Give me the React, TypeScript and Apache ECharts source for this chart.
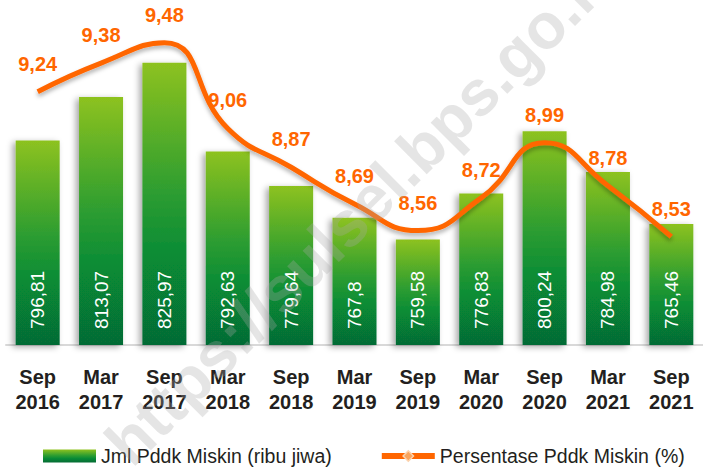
import React, { useEffect, useRef } from "react";
import * as echarts from "echarts";

const categories = [
  "Sep\n2016", "Mar\n2017", "Sep\n2017", "Mar\n2018", "Sep\n2018", "Mar\n2019",
  "Sep\n2019", "Mar\n2020", "Sep\n2020", "Mar\n2021", "Sep\n2021",
];
const poorPeople = [796.81, 813.07, 825.97, 792.63, 779.64, 767.8, 759.58, 776.83, 800.24, 784.98, 765.46];
const poorPercent = [9.24, 9.38, 9.48, 9.06, 8.87, 8.69, 8.56, 8.72, 8.99, 8.78, 8.53];
const barName = "Jml Pddk Miskin (ribu jiwa)";
const lineName = "Persentase Pddk Miskin (%)";
const watermark = "https://sulsel.bps.go.id";

const FONT = "'Liberation Sans', Arial, sans-serif";
const comma = (v: number) => String(v).replace(".", ",");

export default function App() {
  const ref = useRef<HTMLDivElement>(null);
  useEffect(() => {
    if (!ref.current) return;
    const chart = echarts.init(ref.current, null, { renderer: "svg" });
    const barGrad = new echarts.graphic.LinearGradient(0, 0, 0, 1, [
      { offset: 0, color: "#8dc21f" },
      { offset: 0.45, color: "#2f9e30" },
      { offset: 0.7, color: "#078a36" },
      { offset: 1, color: "#066b34" },
    ]);
    chart.setOption({
      animation: false,
      textStyle: { fontFamily: FONT },
      grid: { left: 6, right: -7, top: 12, bottom: 123, containLabel: false },
      legend: {
        left: 38,
        top: 441,
        itemWidth: 53,
        itemHeight: 13,
        itemGap: 47,
        textStyle: { fontFamily: FONT, fontSize: 19.5, color: "#231f20" },
        data: [
          { name: barName, icon: "rect" },
          {
            name: lineName,
            lineStyle: { width: 6, color: "#ff6600", opacity: 1 },
            itemStyle: { color: "#f9a45c", borderColor: "#fcd3ae", borderWidth: 1.5, opacity: 1 },
          },
        ],
      },
      xAxis: {
        type: "category",
        data: categories,
        axisLine: { show: true, lineStyle: { color: "#d9d9d9", width: 2 } },
        axisTick: { show: false },
        axisLabel: {
          interval: 0,
          margin: 19,
          fontFamily: FONT,
          fontSize: 20,
          fontWeight: "bold",
          lineHeight: 25,
          color: "#231f20",
        },
      },
      yAxis: [
        { type: "value", min: 720, max: 845, show: false, splitLine: { show: false } },
        { type: "value", min: 8.0, max: 9.63, show: false, splitLine: { show: false } },
      ],
      series: [
        {
          name: barName,
          type: "bar",
          data: poorPeople,
          barWidth: 44,
          yAxisIndex: 0,
          itemStyle: {
            color: barGrad,
            shadowColor: "rgba(0,0,0,0.35)",
            shadowBlur: 6,
            shadowOffsetX: -3,
            shadowOffsetY: 2,
          },
          label: {
            show: true,
            position: "insideBottom",
            rotate: 90,
            align: "left",
            verticalAlign: "middle",
            distance: 16,
            color: "#ffffff",
            fontFamily: FONT,
            fontSize: 19,
            formatter: (p: any) => comma(p.value),
          },
        },
        {
          name: lineName,
          type: "line",
          data: poorPercent,
          yAxisIndex: 1,
          smooth: 0.5,
          showSymbol: true,
          symbol: "diamond",
          symbolSize: 12,
          itemStyle: { color: "#f7a25e", opacity: 0 },
          lineStyle: {
            color: "#ff6600",
            width: 5,
            shadowColor: "rgba(0,0,0,0.3)",
            shadowBlur: 4,
            shadowOffsetY: 3,
          },
          label: {
            show: true,
            position: "top",
            distance: 12,
            opacity: 1,
            color: "#ff6600",
            fontFamily: FONT,
            fontSize: 20,
            fontWeight: "bold",
            formatter: (p: any) => comma(p.value),
          },
          z: 3,
        },
      ],
      graphic: [
        {
          type: "text",
          x: 363,
          y: 207,
          rotation: Math.PI / 4,
          z: 100,
          silent: true,
          style: {
            text: watermark,
            fontFamily: FONT,
            fontWeight: "bold",
            fontSize: 64,
            fill: "rgba(170,170,170,0.3)",
            align: "center",
            verticalAlign: "middle",
          },
        },
      ],
    });
    return () => chart.dispose();
  }, []);
  return (
    <div
      ref={ref}
      style={{ position: "fixed", left: 0, top: 0, width: 703, height: 468, background: "#fff" }}
    />
  );
}
